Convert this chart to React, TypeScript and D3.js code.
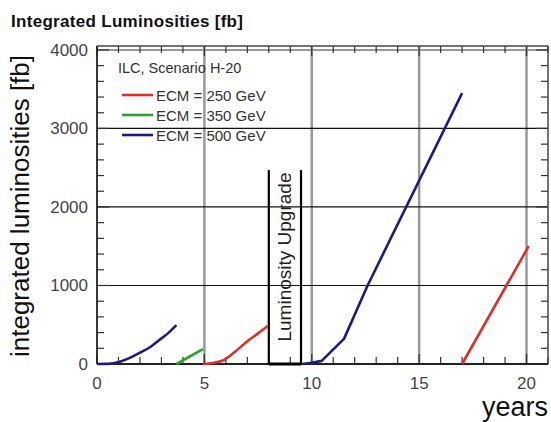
import React from "react";
import * as d3 from "d3";

const years = [0, 5, 10, 15, 20];
const yTicks = [0, 1000, 2000, 3000, 4000];
const legendLabels = ["ECM = 250 GeV", "ECM = 350 GeV", "ECM = 500 GeV"];
const legendColors = ["#d9302c", "#2ca02c", "#1c1c80"];

// segments: [year, integrated luminosity fb^-1]
const blue1: [number, number][] = [[0, 0], [0.5, 2], [1.07, 30], [1.5, 75], [2.0, 145], [2.5, 220], [2.9, 305], [3.3, 390], [3.7, 495]];
const green1: [number, number][] = [[3.7, 0], [4.93, 190]];
const red1: [number, number][] = [[4.93, 0], [5.3, 10], [5.86, 45], [6.4, 150], [7.0, 290], [7.5, 390], [7.95, 485]];
const blue2: [number, number][] = [[9.57, 0], [10.0, 15], [10.46, 40], [11.5, 320], [12.6, 1000], [17.0, 3450]];
const red2: [number, number][] = [[17.0, 0], [20.1, 1500]];
const upgrade = { start: 8.0, end: 9.5, top: 2470 };

const W = 551, H = 422;
const L = 97, R = 548, T = 46, B = 364;

export default function App() {
  const x = d3.scaleLinear().domain([0, 21]).range([L, R]);
  const y = d3.scaleLinear().domain([0, 4050]).range([B, T]);
  const smooth = d3.line<[number, number]>().x(d => x(d[0])).y(d => y(d[1])).curve(d3.curveMonotoneX);
  const straight = d3.line<[number, number]>().x(d => x(d[0])).y(d => y(d[1]));
  const yearTicks = d3.range(0, 22);
  const yMinor = d3.range(0, 4001, 200);
  const font = "Liberation Sans, Arial, sans-serif";
  const series = [
    { d: blue1, c: legendColors[2], g: smooth },
    { d: green1, c: legendColors[1], g: straight },
    { d: red1, c: legendColors[0], g: smooth },
    { d: blue2, c: legendColors[2], g: straight },
    { d: red2, c: legendColors[0], g: straight },
  ];
  return (
    <svg width={W} height={H} style={{ position: "absolute", left: 0, top: 0 }} fontFamily={font}>
      <rect width={W} height={H} fill="#fff" />
      <text x={11} y={27} fontSize={17} fontWeight="bold" fill="#111" letterSpacing={0.3}>Integrated Luminosities  [fb]</text>
      {/* vertical grid */}
      {years.filter(v => v > 0).map(v => (
        <line key={"vg" + v} x1={x(v)} x2={x(v)} y1={T} y2={B} stroke="#9a9a9a" strokeWidth={2.5} />
      ))}
      {/* horizontal grid */}
      {yTicks.filter(v => v > 0).map(v => (
        <line key={"hg" + v} x1={L} x2={R} y1={y(v)} y2={y(v)} stroke={v === 4000 ? "#999" : "#111"} strokeWidth={v === 4000 ? 2 : 1.2} />
      ))}
      {/* ticks */}
      {yearTicks.map(v => (
        <g key={"xt" + v}>
          <line x1={x(v)} x2={x(v)} y1={B} y2={B - (v % 5 === 0 ? 10 : 7)} stroke="#333" strokeWidth={1.2} />
          <line x1={x(v)} x2={x(v)} y1={T} y2={T + (v % 5 === 0 ? 10 : 7)} stroke="#333" strokeWidth={1.2} />
        </g>
      ))}
      {yMinor.map(v => (
        <g key={"yt" + v}>
          <line x1={L} x2={L + (v % 1000 === 0 ? 12 : 7)} y1={y(v)} y2={y(v)} stroke="#333" strokeWidth={1.2} />
          <line x1={R} x2={R - (v % 1000 === 0 ? 12 : 7)} y1={y(v)} y2={y(v)} stroke="#333" strokeWidth={1.2} />
        </g>
      ))}
      {/* frame */}
      <line x1={L} x2={R} y1={T} y2={T} stroke="#444" strokeWidth={1.5} />
      <line x1={R} x2={R} y1={T} y2={B} stroke="#444" strokeWidth={1.5} />
      <line x1={L} x2={L} y1={T} y2={B} stroke="#222" strokeWidth={1.8} />
      <line x1={L} x2={R} y1={B} y2={B} stroke="#222" strokeWidth={1.8} />
      {/* upgrade box */}
      <line x1={x(upgrade.start)} x2={x(upgrade.start)} y1={y(upgrade.top)} y2={B} stroke="#000" strokeWidth={2.2} />
      <line x1={x(upgrade.end)} x2={x(upgrade.end)} y1={y(upgrade.top)} y2={B} stroke="#000" strokeWidth={2.2} />
      <line x1={x(upgrade.start)} x2={x(upgrade.end)} y1={B} y2={B} stroke="#000" strokeWidth={3} />
      <text transform={`translate(${(x(upgrade.start) + x(upgrade.end)) / 2 + 6},${(y(upgrade.top) + B) / 2 - 10}) rotate(-90)`} textAnchor="middle" fontSize={19} fill="#222">Luminosity Upgrade</text>
      {/* data */}
      {series.map((s, i) => (
        <path key={"s" + i} d={s.g(s.d) || ""} fill="none" stroke={s.c} strokeWidth={2.6} strokeLinejoin="round" />
      ))}
      {/* axis labels */}
      {yTicks.map(v => (
        <text key={"yl" + v} x={88} y={y(v) + 6} textAnchor="end" fontSize={17} fill="#444">{v}</text>
      ))}
      {years.map(v => (
        <text key={"xl" + v} x={x(v)} y={389} textAnchor="middle" fontSize={17} fill="#444">{v}</text>
      ))}
      <text x={548} y={416} textAnchor="end" fontSize={27} fill="#111">years</text>
      <text transform="translate(29,206) rotate(-90)" textAnchor="middle" fontSize={26} fill="#111">integrated luminosities  [fb]</text>
      {/* legend */}
      <text x={118} y={73} fontSize={14.5} fill="#333">ILC, Scenario H-20</text>
      {legendLabels.map((lab, i) => (
        <g key={"lg" + i}>
          <line x1={122} x2={153} y1={95 + i * 20} y2={95 + i * 20} stroke={legendColors[i]} strokeWidth={2.6} />
          <text x={156} y={100.5 + i * 20} fontSize={15} fill="#333">{lab}</text>
        </g>
      ))}
    </svg>
  );
}
